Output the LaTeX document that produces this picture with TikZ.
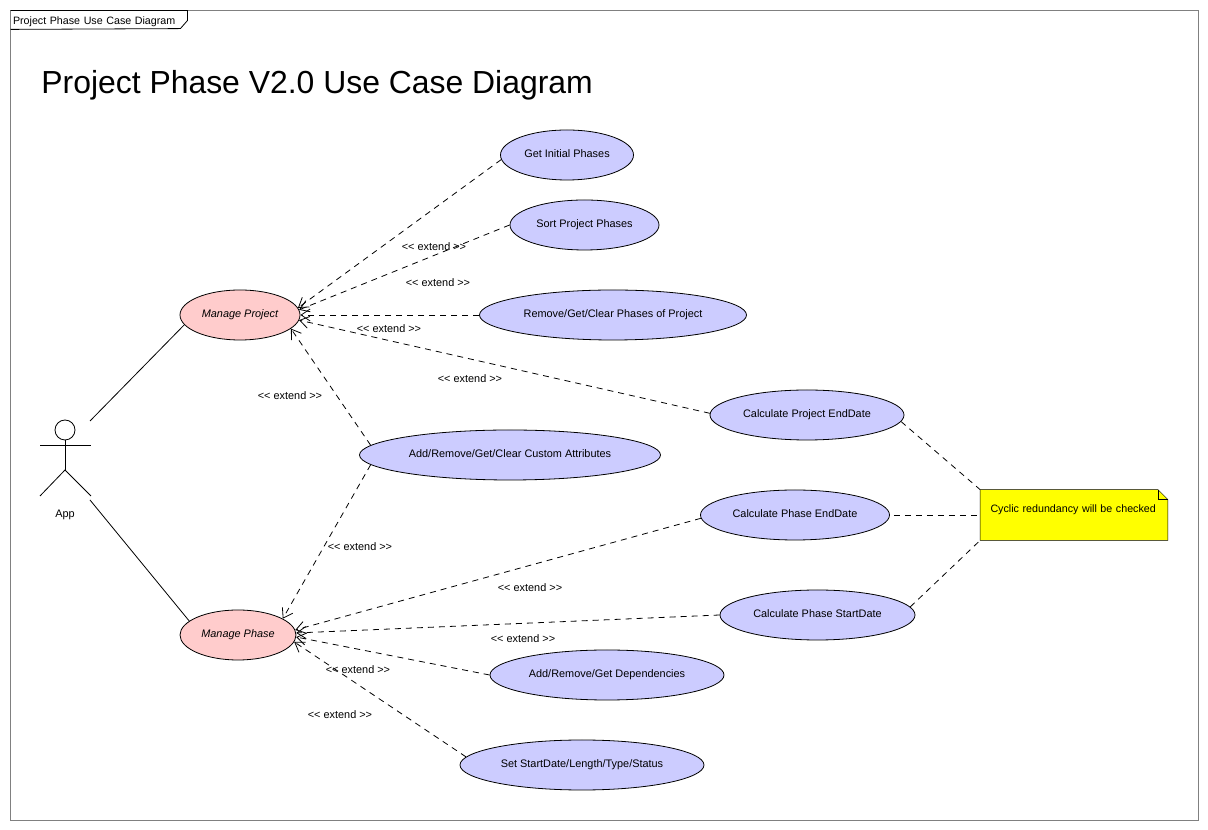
\documentclass[tikz,border=0pt]{standalone}
\usepackage{fontspec}
\setmainfont{Liberation Sans}
\usetikzlibrary{positioning, arrows.meta, shapes.geometric, backgrounds, calc}

\definecolor{ucblue}{RGB}{204,204,255}
\definecolor{ucpink}{RGB}{255,204,204}
\definecolor{noteyellow}{RGB}{255,255,0}
\newcommand{\extlabel}{{<}{<} extend {>}{>}}

\begin{document}
\begin{tikzpicture}[
    x=1pt, y=1pt,
    font=\fontsize{10.9pt}{12pt}\selectfont,
    line width=0.8pt,
    on grid,
    uc/.style={draw, ellipse, fill=ucblue, minimum height=50pt, inner sep=0pt,
               text height=8pt, text depth=2pt},
    ucmain/.style={uc, fill=ucpink, font=\fontsize{10.9pt}{12pt}\selectfont\itshape},
    ext/.style={dash pattern=on 6pt off 5pt, -{Straight Barb[length=9pt, width=12pt]}},
    link/.style={dash pattern=on 6pt off 5pt},
    lbl/.style={inner sep=0pt, yshift=-1pt},
    notebox/.style={minimum width=187pt, minimum height=50pt, inner sep=0pt, text width=167pt,
                    align=left, text height=7pt, text depth=11pt, font=\fontsize{10.7pt}{12pt}\selectfont},
    framebox/.style={draw=black!50, minimum width=1188pt, minimum height=810pt, inner sep=0pt},
    tabbox/.style={minimum height=18pt, inner ysep=0pt, inner xsep=2pt, text width=172pt, align=left,
                   text height=9pt, text depth=0pt, font=\fontsize{10.7pt}{12pt}\selectfont},
    headnode/.style={draw, circle, minimum size=20pt, inner sep=0pt},
  ]
  \useasboundingbox (0,0) rectangle (1208,830);

  \node[framebox] (frame) at (604,415) {};
  \node[tabbox, anchor=north west] (tab) at ([xshift=1pt, yshift=-1pt]frame.north west) {Project Phase Use Case Diagram};
  \draw (tab.north west) -- (tab.north east) -- ++(0,-10) -- ++(-7,-8) -- (tab.south west);
  \node[anchor=west, inner sep=0pt, font=\fontsize{31.9pt}{36pt}\selectfont] (title) at (41,745) {Project Phase V2.0 Use Case Diagram};

  % use cases
  \node[ucmain, minimum width=120pt] (prj) at (240,515) {Manage Project};
  \node[ucmain, minimum width=116pt, below left=320pt and 2pt of prj] (prs) {Manage Phase};

  \node[uc, minimum width=133pt, above right=160pt and 327pt of prj] (gip) {Get Initial Phases};
  \node[uc, minimum width=149pt, above right=90pt and 344.5pt of prj] (srt) {Sort Project Phases};
  \node[uc, minimum width=267pt, right=373pt of prj] (rem) {Remove/Get/Clear Phases of Project};
  \node[uc, minimum width=194pt, below right=100pt and 567pt of prj] (cpj) {Calculate Project EndDate};
  \node[uc, minimum width=301pt, below right=140pt and 270pt of prj] (cus) {Add/Remove/Get/Clear Custom Attributes};
  \node[uc, minimum width=189pt, below left=100pt and 12pt of cpj] (cpe) {Calculate Phase EndDate};
  \node[uc, minimum width=195pt, below right=100pt and 22.5pt of cpe] (cps) {Calculate Phase StartDate};
  \node[uc, minimum width=234pt, below right=40pt and 369pt of prs] (dep) {Add/Remove/Get Dependencies};
  \node[uc, minimum width=244pt, below right=130pt and 344pt of prs] (sdl) {Set StartDate/Length/Type/Status};

  % note
  \node[notebox, right=279pt of cpe] (note) {Cyclic redundancy will be checked};
  \begin{scope}[on background layer]
    \draw[fill=noteyellow] (note.north west) -- ([xshift=-10pt]note.north east) -- ([yshift=-10pt]note.north east)
      -- (note.south east) -- (note.south west) -- cycle;
    \draw ([xshift=-10pt]note.north east) -- ++(0,-10) -- ([yshift=-10pt]note.north east);
  \end{scope}

  % actor
  \node[headnode] (head) at (65,400) {};
  \coordinate[below=40pt of head] (hip);
  \coordinate[below left=15pt and 25pt of head] (armL);
  \coordinate[below right=15pt and 26pt of head] (armR);
  \coordinate[below left=66pt and 25pt of head] (footL);
  \coordinate[below right=66pt and 26pt of head] (footR);
  \coordinate[above right=9pt and 25pt of head] (assocA);
  \coordinate[below right=70pt and 25pt of head] (assocB);
  \node[lbl, below=84pt of head] (app) {App};
  \draw (head) -- (hip);
  \draw (armL) -- (armR);
  \draw (footL) -- (hip) -- (footR);

  \draw (assocA) -- (prj.190);
  \draw (assocB) -- (prs.164);

  % extends
  \draw[ext] (gip.184) -- (prj.7);
  \draw[ext] (srt.west) -- (prj.5);
  \draw[ext] (rem.west) -- (prj.east);
  \draw[ext] (cpj.179) -- (prj.355);
  \draw[ext] (cus.176) -- (prj.345);
  \draw[ext] (cus.184) -- (prs.20);
  \draw[ext] (cpe.182) -- (prs.5);
  \draw[ext] (cps.west) -- (prs.2);
  \draw[ext] (dep.west) -- (prs.358);
  \draw[ext] (sdl.176) -- (prs.353);

  \draw[link] (cpj.356) -- (note.north west);
  \draw[link] ([xshift=4pt]cpe.east) -- (note.west);
  \draw[link] (cps.5) -- (note.south west);

  % labels
  \node[lbl, above right=69pt and 194pt of prj] (lgip) {\extlabel};
  \node[lbl, above right=33pt and 198pt of prj] (lsrt) {\extlabel};
  \node[lbl, below right=13pt and 149pt of prj] (lrem) {\extlabel};
  \node[lbl, below right=63pt and 230pt of prj] (lcpj) {\extlabel};
  \node[lbl, below right=80pt and 50pt of prj] (lcus) {\extlabel};
  \node[lbl, above right=89pt and 122pt of prs] (lcua) {\extlabel};
  \node[lbl, above right=48pt and 292pt of prs] (lcpe) {\extlabel};
  \node[lbl, below right=3pt and 285pt of prs] (lcps) {\extlabel};
  \node[lbl, below right=34pt and 120pt of prs] (ldep) {\extlabel};
  \node[lbl, below right=79pt and 102pt of prs] (lsdl) {\extlabel};
\end{tikzpicture}
\end{document}
